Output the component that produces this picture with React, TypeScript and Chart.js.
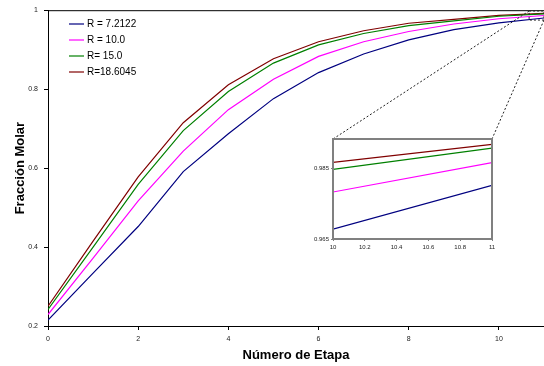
import React, { useEffect, useRef } from "react";
import { Chart, registerables } from "chart.js";

Chart.register(...registerables);

const stages = [0, 1, 2, 3, 4, 5, 6, 7, 8, 9, 10, 11];
const seriesLabels = ["R = 7.2122", "R = 10.0", "R= 15.0", "R=18.6045"];
const r72 = [0.215, 0.334, 0.452, 0.591, 0.687, 0.776, 0.842, 0.889, 0.925, 0.951, 0.9678, 0.9802];
const r10 = [0.229, 0.372, 0.517, 0.643, 0.748, 0.825, 0.883, 0.92, 0.946, 0.965, 0.9783, 0.9866];
const r15 = [0.242, 0.4, 0.559, 0.695, 0.794, 0.866, 0.912, 0.941, 0.961, 0.973, 0.9847, 0.9907];
const r186 = [0.25, 0.415, 0.578, 0.715, 0.811, 0.877, 0.92, 0.948, 0.967, 0.977, 0.9867, 0.9918];
const colors = ["#000080", "#ff00ff", "#008000", "#800000"];
const yTicks = [0.2, 0.4, 0.6, 0.8, 1];
const xTicks = [0, 2, 4, 6, 8, 10];
const insetXTicks = [10, 10.2, 10.4, 10.6, 10.8, 11];
const insetYTicks = [0.965, 0.985];
const zoomBox = { x0: 10.67, x1: 11, y0: 0.975, y1: 0.998 };

const FONT = "'Liberation Sans', Arial, sans-serif";
// inset frame corners in page pixels (layout)
const INSET = { left: 296, top: 128, w: 210, h: 130, padL: 37, padT: 11, padR: 14, padB: 19 };

function makeData() {
  const all = [r72, r10, r15, r186];
  return {
    datasets: all.map((arr, i) => ({
      label: seriesLabels[i],
      data: stages.map((s, j) => ({ x: s, y: arr[j] })),
      borderColor: colors[i],
      backgroundColor: colors[i],
      borderWidth: 1.2,
      pointRadius: 0,
      tension: 0,
      fill: false,
    })),
  };
}

export default function App() {
  const mainRef = useRef<HTMLCanvasElement>(null);
  const insetRef = useRef<HTMLCanvasElement>(null);

  useEffect(() => {
    document.body.style.margin = "0";
    const legendPlugin = {
      id: "customLegend",
      afterDraw(chart: any) {
        const ctx = chart.ctx;
        ctx.save();
        chart.data.datasets.forEach((ds: any, i: number) => {
          const y = 24 + i * 16;
          ctx.strokeStyle = ds.borderColor;
          ctx.lineWidth = 1.2;
          ctx.beginPath();
          ctx.moveTo(69, y);
          ctx.lineTo(84, y);
          ctx.stroke();
          ctx.fillStyle = "#000";
          ctx.font = `10px ${FONT}`;
          ctx.textBaseline = "middle";
          ctx.textAlign = "left";
          ctx.fillText(ds.label, 87, y + 0.5);
        });
        ctx.restore();
      },
    };
    const framePlugin = {
      id: "frameAndZoom",
      afterDraw(chart: any) {
        const ctx = chart.ctx;
        const a = chart.chartArea;
        const xs = chart.scales.x;
        const ys = chart.scales.y;
        ctx.save();
        ctx.strokeStyle = "#000";
        ctx.lineWidth = 1;
        ctx.beginPath();
        ctx.moveTo(a.left, a.top + 0.5);
        ctx.lineTo(a.right, a.top + 0.5);
        ctx.stroke();
        const bx0 = xs.getPixelForValue(zoomBox.x0);
        const bx1 = xs.getPixelForValue(zoomBox.x1);
        const by0 = ys.getPixelForValue(zoomBox.y1);
        const by1 = ys.getPixelForValue(zoomBox.y0);
        ctx.setLineDash([2, 2]);
        ctx.strokeStyle = "#222";
        ctx.strokeRect(bx0, by0, bx1 - bx0, by1 - by0);
        const fl = INSET.left + INSET.padL;
        const fr = INSET.left + INSET.w - INSET.padR;
        const ft = INSET.top + INSET.padT;
        ctx.beginPath();
        ctx.moveTo(bx0, by0);
        ctx.lineTo(fl, ft);
        ctx.moveTo(bx1, by1);
        ctx.lineTo(fr, ft);
        ctx.stroke();
        ctx.restore();
      },
    };
    const main = new Chart(mainRef.current!, {
      type: "line",
      data: makeData() as any,
      options: {
        responsive: false,
        animation: false,
        layout: { padding: { top: 8, right: 0, left: 0, bottom: 0 } },
        plugins: { legend: { display: false }, tooltip: { enabled: false } },
        scales: {
          x: {
            type: "linear",
            min: 0,
            max: 11,
            afterFit: (s: any) => { s.height = 40; },
            afterBuildTicks: (s: any) => { s.ticks = xTicks.map((v) => ({ value: v })); },
            grid: { display: true, drawOnChartArea: false, drawTicks: true, tickLength: 4, color: "#000" },
            border: { display: true, color: "#000", width: 1 },
            ticks: { font: { size: 7, family: FONT }, color: "#222", padding: 5, maxRotation: 0, callback: (v: any) => String(v) },
            title: { display: true, text: "Número de Etapa", font: { size: 13, weight: "bold", family: FONT }, color: "#000", padding: { top: 0, bottom: 3 } },
          },
          y: {
            type: "linear",
            min: 0.2,
            max: 1,
            afterFit: (s: any) => { s.width = 48; },
            afterBuildTicks: (s: any) => { s.ticks = yTicks.map((v) => ({ value: v })); },
            grid: { display: true, drawOnChartArea: false, drawTicks: true, tickLength: 4, color: "#000" },
            border: { display: true, color: "#000", width: 1 },
            ticks: { font: { size: 7, family: FONT }, color: "#222", padding: 6, callback: (v: any) => String(Number(v.toFixed(1))) },
            title: { display: true, text: "Fracción Molar", font: { size: 13, weight: "bold", family: FONT }, color: "#000", padding: { top: 13, bottom: 0 } },
          },
        },
      },
      plugins: [legendPlugin, framePlugin],
    } as any);

    const insetPlugin = {
      id: "insetFrame",
      beforeDraw(chart: any) {
        const a = chart.chartArea;
        const ctx = chart.ctx;
        ctx.save();
        ctx.fillStyle = "#fff";
        ctx.fillRect(a.left, a.top, a.right - a.left, a.bottom - a.top);
        ctx.restore();
      },
      afterDraw(chart: any) {
        const a = chart.chartArea;
        const ctx = chart.ctx;
        ctx.save();
        ctx.strokeStyle = "#808080";
        ctx.lineWidth = 2;
        ctx.strokeRect(a.left, a.top, a.right - a.left, a.bottom - a.top);
        ctx.restore();
      },
    };
    const inset = new Chart(insetRef.current!, {
      type: "line",
      data: makeData() as any,
      options: {
        responsive: false,
        animation: false,
        layout: { padding: { top: INSET.padT, right: INSET.padR, left: 0, bottom: 0 } },
        plugins: { legend: { display: false }, tooltip: { enabled: false } },
        scales: {
          x: {
            type: "linear",
            min: 10,
            max: 11,
            afterFit: (s: any) => { s.height = INSET.padB; },
            afterBuildTicks: (s: any) => { s.ticks = insetXTicks.map((v) => ({ value: v })); },
            grid: { display: true, drawOnChartArea: false, drawTicks: true, tickLength: 2, color: "#808080" },
            border: { display: true, color: "#808080", width: 2 },
            ticks: { font: { size: 6, family: FONT }, color: "#222", padding: 3, maxRotation: 0, autoSkip: false, callback: (v: any) => String(Number(Number(v).toFixed(1))) },
          },
          y: {
            type: "linear",
            min: 0.965,
            max: 0.9933,
            afterFit: (s: any) => { s.width = INSET.padL; },
            afterBuildTicks: (s: any) => { s.ticks = insetYTicks.map((v) => ({ value: v })); },
            grid: { display: true, drawOnChartArea: false, drawTicks: true, tickLength: 2, color: "#808080" },
            border: { display: true, color: "#808080", width: 2 },
            ticks: { font: { size: 6, family: FONT }, color: "#222", padding: 2, callback: (v: any) => Number(v).toFixed(3) },
          },
        },
      },
      plugins: [insetPlugin],
    } as any);

    return () => {
      main.destroy();
      inset.destroy();
    };
  }, []);

  return (
    <div style={{ position: "relative", width: 544, height: 366, background: "#fff" }}>
      <canvas ref={mainRef} width={544} height={366} style={{ position: "absolute", left: 0, top: 0 }} />
      <canvas
        ref={insetRef}
        width={INSET.w}
        height={INSET.h}
        style={{ position: "absolute", left: INSET.left, top: INSET.top }}
      />
    </div>
  );
}
